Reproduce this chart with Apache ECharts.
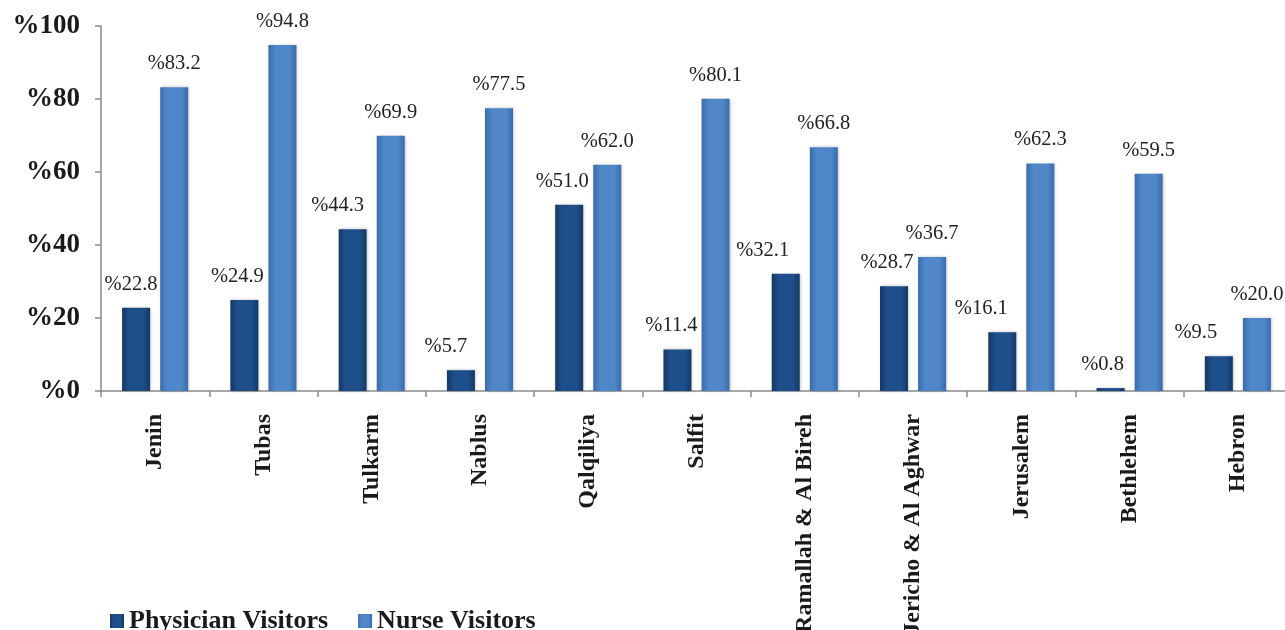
<!DOCTYPE html>
<html>
<head>
<meta charset="utf-8">
<script src="https://cdn.jsdelivr.net/npm/echarts@6/dist/echarts.min.js"></script>
<style>
html,body{margin:0;padding:0;background:#fff;}
#chart{width:1285px;height:630px;}
</style>
</head>
<body>
<div id="chart"></div>
<script>
const categories = ["Jenin","Tubas","Tulkarm","Nablus","Qalqiliya","Salfit","Ramallah & Al Bireh","Jericho & Al Aghwar","Jerusalem","Bethlehem","Hebron"];
const physicianVisitors = [22.8,24.9,44.3,5.7,51.0,11.4,32.1,28.7,16.1,0.8,9.5];
const nurseVisitors = [83.2,94.8,69.9,77.5,62.0,80.1,66.8,36.7,62.3,59.5,20.0];
const yTicks = [0,20,40,60,80,100];

const serif = "'Liberation Serif','Times New Roman',serif";
// label nudges (style only)
const physLabelDx = [-5,-7,-15,-15,-7,-6,-23,-7,-21,-8,-23];

function grad(edge, mid){
  return new echarts.graphic.LinearGradient(0,0,1,0,[
    {offset:0,color:edge},{offset:0.25,color:mid},{offset:0.75,color:mid},{offset:1,color:edge}
  ]);
}
const physColor = grad('#143862','#1F4F8B');
const nurseColor = grad('#3A6CAB','#4F87C8');

const chart = echarts.init(document.getElementById('chart'));
const labelBase = {show:true, position:'top', distance:13, fontFamily:serif, fontSize:20.5, color:'#222',
  formatter: p => '%' + p.value.toFixed(1)};

chart.setOption({
  animation:false,
  backgroundColor:'#fff',
  grid:{left:101, top:26, width:1191, height:365, containLabel:false, outerBoundsMode:'none'},
  legend:{
    left:105, top:603, itemWidth:14, itemHeight:14, itemGap:30, icon:'rect',
    textStyle:{fontFamily:serif, fontWeight:'bold', fontSize:26, color:'#1a1a1a'},
    data:['Physician Visitors','Nurse Visitors']
  },
  xAxis:{
    type:'category', data:categories,
    axisLine:{lineStyle:{color:'#8a8a8a', width:1.5}},
    axisTick:{show:true, length:6, lineStyle:{color:'#8a8a8a', width:1.5}},
    axisLabel:{rotate:90, margin:23, interval:0, hideOverlap:false, fontFamily:serif, fontWeight:'bold', fontSize:24, color:'#1a1a1a'}
  },
  yAxis:{
    type:'value', min:0, max:100, interval:20,
    splitLine:{show:false},
    axisLine:{show:true, lineStyle:{color:'#8a8a8a', width:1.5}},
    axisTick:{show:true, length:6, lineStyle:{color:'#8a8a8a', width:1.5}},
    axisLabel:{margin:21, fontFamily:serif, fontWeight:'bold', fontSize:27, color:'#1a1a1a',
      formatter: v => yTicks.indexOf(v) >= 0 ? '%' + v : ''}
  },
  series:[
    {name:'Physician Visitors', type:'bar', barWidth:28, barGap:'36%',
     itemStyle:{color:physColor, shadowBlur:3, shadowColor:'rgba(0,0,0,0.25)', shadowOffsetX:1},
     label:labelBase,
     data: physicianVisitors.map((v,i)=>({value:v, label:{offset:[physLabelDx[i],0]}}))},
    {name:'Nurse Visitors', type:'bar', barWidth:28, barGap:'36%',
     itemStyle:{color:nurseColor, shadowBlur:3, shadowColor:'rgba(0,0,0,0.25)', shadowOffsetX:1},
     label:labelBase,
     data: nurseVisitors}
  ]
});
</script>
</body>
</html>
